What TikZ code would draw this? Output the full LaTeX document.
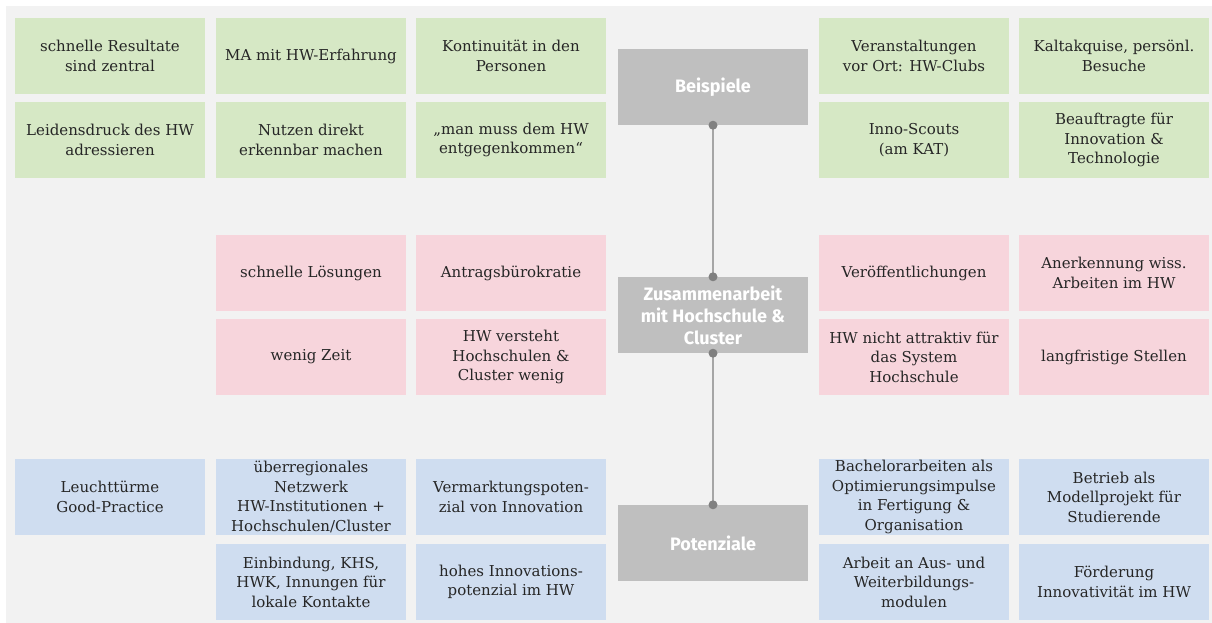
\documentclass[tikz,border=0pt]{standalone}
\usepackage{fontspec}
\setmainfont{DejaVu Serif}
\newfontfamily\hdrfont{Fira Sans}
\definecolor{bgc}{HTML}{F2F2F2}
\definecolor{grn}{HTML}{D6E8C5}
\definecolor{pnk}{HTML}{F7D5DC}
\definecolor{blu}{HTML}{CFDDF0}
\definecolor{hdrc}{HTML}{BFBFBF}
\definecolor{txtc}{HTML}{262626}
\definecolor{linec}{HTML}{A6A6A6}
\definecolor{dotc}{HTML}{808080}
\tikzset{
  cell/.style={minimum width=190pt, minimum height=76pt, inner sep=0pt, align=center,
    text=txtc, font=\fontsize{15}{19.5}\selectfont},
  gcell/.style={cell, fill=grn},
  pcell/.style={cell, fill=pnk},
  bcell/.style={cell, fill=blu},
  hcell/.style={minimum width=190pt, minimum height=76pt, inner sep=0pt, align=center,
    fill=hdrc, text=white, font=\hdrfont\bfseries\fontsize{18}{22}\selectfont},
  conn/.style={draw=linec, line width=1.5pt},
  dotmark/.style={circle, fill=dotc, minimum size=9pt, inner sep=0pt}
}
\begin{document}
\begin{tikzpicture}[x=1pt,y=-1pt]
\useasboundingbox (0,0) rectangle (1212,623);
\fill[bgc] (6,6) rectangle (1212,623);
% green
\node[gcell] (g11) at (110,56) {schnelle Resultate\\sind zentral};
\node[gcell] (g12) at (311,56) {MA mit HW-Erfahrung};
\node[gcell] (g13) at (511,56) {Kontinuität in den\\Personen};
\node[gcell] (g21) at (110,140) {Leidensdruck des HW\\adressieren};
\node[gcell] (g22) at (311,140) {Nutzen direkt\\erkennbar machen};
\node[gcell] (g23) at (511,140) {„man muss dem HW\\entgegenkommen“};
\node[gcell] (g14) at (914,56) {Veranstaltungen\\vor Ort: HW-Clubs};
\node[gcell] (g15) at (1114,56) {Kaltakquise, persönl.\\Besuche};
\node[gcell] (g24) at (914,140) {Inno-Scouts\\(am KAT)};
\node[gcell] (g25) at (1114,140) {Beauftragte für\\Innovation \&\\Technologie};
% pink
\node[pcell] (p12) at (311,273) {schnelle Lösungen};
\node[pcell] (p13) at (511,273) {Antragsbürokratie};
\node[pcell] (p22) at (311,357) {wenig Zeit};
\node[pcell] (p23) at (511,357) {HW versteht\\Hochschulen \&\\Cluster wenig};
\node[pcell] (p14) at (914,273) {Veröffentlichungen};
\node[pcell] (p15) at (1114,273) {Anerkennung wiss.\\Arbeiten im HW};
\node[pcell] (p24) at (914,357) {HW nicht attraktiv für\\das System\\Hochschule};
\node[pcell] (p25) at (1114,357) {langfristige Stellen};
% blue
\node[bcell] (b11) at (110,497) {Leuchttürme\\Good-Practice};
\node[bcell] (b12) at (311,497) {überregionales\\Netzwerk\\HW-Institutionen +\\Hochschulen/Cluster};
\node[bcell] (b13) at (511,497) {Vermarktungspoten-\\zial von Innovation};
\node[bcell] (b22) at (311,582) {Einbindung, KHS,\\HWK, Innungen für\\lokale Kontakte};
\node[bcell] (b23) at (511,582) {hohes Innovations-\\potenzial im HW};
\node[bcell] (b14) at (914,497) {Bachelorarbeiten als\\Optimierungsimpulse\\in Fertigung \&\\Organisation};
\node[bcell] (b15) at (1114,497) {Betrieb als\\Modellprojekt für\\Studierende};
\node[bcell] (b24) at (914,582) {Arbeit an Aus- und\\Weiterbildungs-\\modulen};
\node[bcell] (b25) at (1114,582) {Förderung\\Innovativität im HW};
% headers
\node[hcell] (h1) at (713,87) {Beispiele};
\node[hcell] (h2) at (713,315) {Zusammenarbeit\\mit Hochschule \&\\Cluster};
\node[hcell] (h3) at (713,543) {Potenziale};
% connectors
\draw[conn] (h1.south) -- (h2.north);
\draw[conn] (h2.south) -- (h3.north);
\node[dotmark] (d1) at (h1.south) {};
\node[dotmark] (d2) at (h2.north) {};
\node[dotmark] (d3) at (h2.south) {};
\node[dotmark] (d4) at (h3.north) {};
\end{tikzpicture}
\end{document}
